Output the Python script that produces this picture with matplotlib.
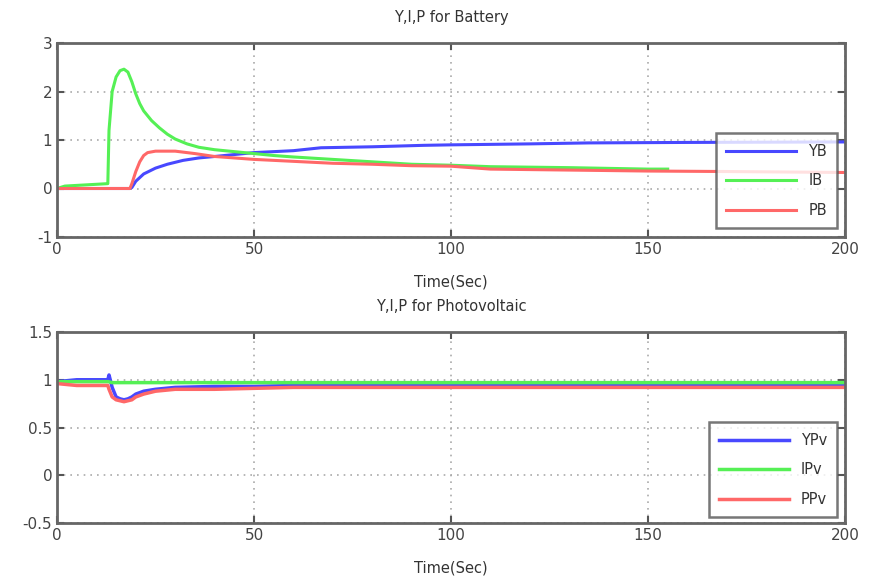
import matplotlib
matplotlib.use("Agg")
import matplotlib.pyplot as plt

plt.rcParams["axes.unicode_minus"] = False

# ---- Battery data ----
t_vb = [0, 13, 18.5, 19, 20, 22, 25, 28, 32, 36, 40, 45, 50, 60, 67, 80, 93, 100, 120, 135, 160, 200]
vb   = [0, 0, 0, 0.02, 0.15, 0.3, 0.42, 0.5, 0.58, 0.63, 0.66, 0.7, 0.74, 0.78, 0.84, 0.86, 0.89, 0.9, 0.92, 0.94, 0.95, 0.96]

t_ib = [0, 2, 12.9, 13.2, 14, 15, 16, 17, 18, 19, 20, 21, 22, 24, 26, 28, 30, 33, 36, 40, 45, 50, 55, 60, 70, 80, 90, 100, 110, 130, 150, 155]
ib   = [0, 0.05, 0.1, 1.2, 2.0, 2.3, 2.43, 2.46, 2.4, 2.2, 1.95, 1.75, 1.6, 1.4, 1.25, 1.12, 1.02, 0.92, 0.85, 0.8, 0.76, 0.72, 0.68, 0.65, 0.6, 0.55, 0.5, 0.48, 0.45, 0.43, 0.4, 0.4]

t_pb = [0, 13, 18.5, 19, 20, 21, 22, 23, 25, 30, 35, 40, 45, 50, 60, 70, 80, 90, 100, 110, 130, 150, 170, 200]
pb   = [0, 0, 0, 0.1, 0.35, 0.55, 0.68, 0.74, 0.77, 0.77, 0.72, 0.66, 0.63, 0.6, 0.56, 0.52, 0.5, 0.47, 0.46, 0.4, 0.38, 0.36, 0.35, 0.33]

# ---- Photovoltaic data ----
t_vpv = [0, 5, 12.9, 13.2, 14, 15, 16, 17, 18, 19, 20, 22, 25, 30, 40, 50, 60, 100, 200]
vpv   = [0.98, 1.0, 1.0, 1.05, 0.92, 0.82, 0.8, 0.79, 0.8, 0.82, 0.85, 0.88, 0.9, 0.92, 0.93, 0.93, 0.94, 0.94, 0.95]

t_ipv = [0, 13, 14, 20, 50, 100, 200]
ipv   = [0.98, 0.98, 0.97, 0.97, 0.97, 0.97, 0.97]

t_ppv = [0, 5, 12.9, 13.2, 14, 15, 16, 17, 18, 19, 20, 22, 25, 30, 40, 50, 60, 100, 200]
ppv   = [0.96, 0.94, 0.94, 0.9, 0.82, 0.79, 0.78, 0.77, 0.78, 0.79, 0.82, 0.85, 0.88, 0.9, 0.9, 0.91, 0.92, 0.92, 0.92]

BLUE = "#4848ff"
GREEN = "#55f055"
RED = "#ff6868"

fig = plt.figure(figsize=(8.74, 5.81), dpi=100)
W, H = 874, 581
ax1 = fig.add_axes([57 / W, 1 - 237 / H, 788 / W, 194 / H])
ax2 = fig.add_axes([57 / W, 1 - 523 / H, 788 / W, 191 / H])

def style(ax, yticks, ylim):
    ax.set_xlim(0, 200)
    ax.set_ylim(*ylim)
    ax.set_xticks([0, 50, 100, 150, 200])
    ax.set_yticks(yticks)
    ax.grid(True, linestyle=(0, (1, 3)), color="#aaaaaa", linewidth=1.2)
    for s in ax.spines.values():
        s.set_color("#666666")
        s.set_linewidth(2)
    ax.tick_params(direction="in", length=5, width=1.5, color="#555555",
                   labelsize=11, labelcolor="#444444", top=True, right=True)
    ax.set_xlabel("Time(Sec)", fontsize=10.5, color="#333333", labelpad=13)

def legend(ax, anchor):
    leg = ax.legend(loc="lower right", fontsize=10.5, frameon=True, fancybox=False,
                    borderpad=0.7, labelspacing=1.0, handlelength=4.8,
                    borderaxespad=0, bbox_to_anchor=anchor)
    leg.get_frame().set_edgecolor("#555555")
    leg.get_frame().set_linewidth(1.8)
    for txt in leg.get_texts():
        txt.set_color("#333333")

ax1.plot(t_vb, vb, color=BLUE, lw=2.2, label="YB")
ax1.plot(t_ib, ib, color=GREEN, lw=2.2, label="IB")
ax1.plot(t_pb, pb, color=RED, lw=2.2, label="PB")
style(ax1, [-1, 0, 1, 2, 3], (-1, 3))
ax1.set_title("Y,I,P for Battery", fontsize=10.5, color="#333333", pad=15)
legend(ax1, (0.990, 0.046))

ax2.plot(t_vpv, vpv, color=BLUE, lw=2.5, label="YPv")
ax2.plot(t_ipv, ipv, color=GREEN, lw=2.5, label="IPv")
ax2.plot(t_ppv, ppv, color=RED, lw=2.5, label="PPv")
style(ax2, [-0.5, 0, 0.5, 1, 1.5], (-0.5, 1.5))
ax2.set_yticklabels(["-0.5", "0", "0.5", "1", "1.5"])
ax2.set_title("Y,I,P for Photovoltaic", fontsize=10.5, color="#333333", pad=15)
legend(ax2, (0.990, 0.031))

fig.savefig("out.png", dpi=100)
